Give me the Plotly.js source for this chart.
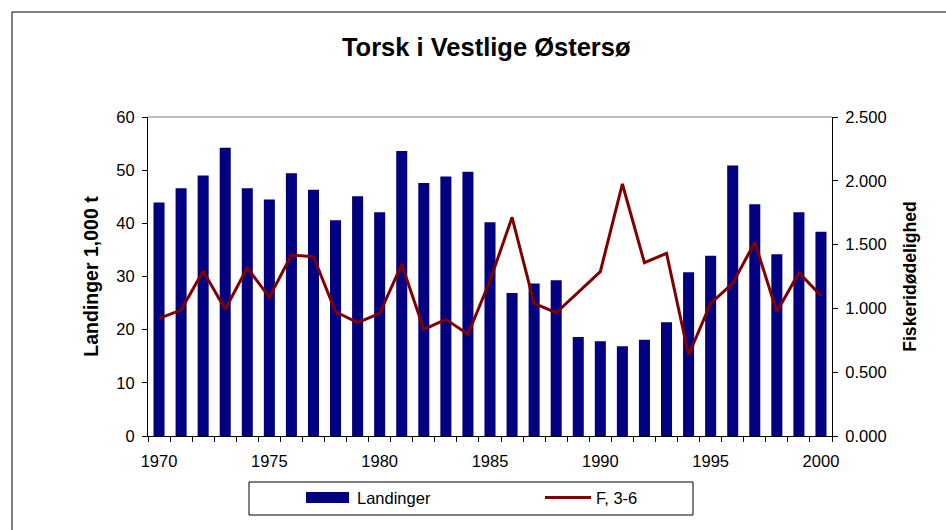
<!DOCTYPE html>
<html>
<head>
<meta charset="utf-8">
<script src="https://cdn.plot.ly/plotly-3.0.1.min.js"></script>
<style>html,body{margin:0;padding:0;background:#fff;}</style>
</head>
<body>
<div id="chart" style="width:946px;height:530px;"></div>
<script>
const years = [1970,1971,1972,1973,1974,1975,1976,1977,1978,1979,1980,1981,1982,1983,1984,1985,1986,1987,1988,1989,1990,1991,1992,1993,1994,1995,1996,1997,1998,1999,2000];
const landinger = [43.9,46.6,49.0,54.2,46.6,44.5,49.4,46.3,40.6,45.1,42.1,53.6,47.6,48.8,49.7,40.2,26.9,28.7,29.3,18.6,17.8,16.9,18.1,21.4,30.8,33.9,50.9,43.6,34.2,42.1,38.4];
const fishingMortality = [0.922,0.987,1.293,0.993,1.319,1.087,1.418,1.405,0.974,0.888,0.961,1.345,0.836,0.914,0.797,1.217,1.714,1.040,0.966,1.127,1.288,1.975,1.358,1.432,0.635,1.040,1.197,1.518,0.974,1.280,1.100];
const xTickVals = [1970,1975,1980,1985,1990,1995,2000];
const leftTicks = [0,10,20,30,40,50,60];
const rightTicks = [0,0.5,1,1.5,2,2.5];
const seriesNames = ['Landinger', 'F, 3-6'];
const barColor = '#000080';
const lineColor = '#800000';

const FONT = '"Liberation Sans", Arial, sans-serif';
const TICKSIZE = 16.5;

const traces = [
  {
    type: 'bar', name: seriesNames[0], x: years, y: landinger,
    marker: {color: barColor, line: {width: 0}}, width: 0.5,
    xaxis: 'x', yaxis: 'y', hoverinfo: 'skip', showlegend: false
  },
  {
    type: 'scatter', mode: 'lines', name: seriesNames[1], x: years, y: fishingMortality,
    line: {color: lineColor, width: 3}, xaxis: 'x', yaxis: 'y2', hoverinfo: 'skip', showlegend: false
  }
];

// pixel helpers for legend box (plot area: x 148..832, y 117..436)
const px = v => (v - 148) / 684;
const py = v => (436 - v) / 319;

const layout = {
  width: 946, height: 530,
  margin: {l: 148, r: 114, t: 117, b: 94},
  paper_bgcolor: '#ffffff', plot_bgcolor: '#ffffff',
  font: {family: FONT, size: TICKSIZE, color: '#000'},
  showlegend: false,
  title: {
    text: '<b>Torsk i Vestlige Østersø</b>',
    font: {family: FONT, size: 25.5, color: '#000'},
    x: 0.514, xanchor: 'center', xref: 'container',
    y: 0.912, yanchor: 'middle', yref: 'container'
  },
  xaxis: {
    range: [1969.5, 2000.5], tickvals: xTickVals, ticktext: xTickVals.map(String),
    ticks: '', showgrid: false, zeroline: false,
    showline: true, linecolor: '#000', linewidth: 1,
    tickfont: {family: FONT, size: TICKSIZE}, ticklabelstandoff: 10,
    minor: {tick0: 1969.5, dtick: 1, ticks: 'outside', ticklen: 5, tickcolor: '#000', tickwidth: 1, showgrid: false}
  },
  yaxis: {
    range: [0, 60], tickvals: leftTicks, ticks: 'outside', ticklen: 5, tickcolor: '#000',
    showgrid: false, zeroline: false, showline: true, linecolor: '#000', linewidth: 1,
    tickfont: {family: FONT, size: TICKSIZE}, ticklabelstandoff: 4,
    title: {text: '<b>Landinger 1,000 t</b>', font: {family: FONT, size: 19.5}, standoff: 12}
  },
  yaxis2: {
    range: [0, 2.5], tickvals: rightTicks, tickformat: '.3f', overlaying: 'y', side: 'right',
    ticks: 'outside', ticklen: 5, tickcolor: '#000',
    showgrid: false, zeroline: false, showline: true, linecolor: '#000', linewidth: 1,
    tickfont: {family: FONT, size: TICKSIZE}, ticklabelstandoff: 4,
    title: {text: '<b>Fiskeridødelighed</b>', font: {family: FONT, size: 17.6}, standoff: 18}
  },
  shapes: [
    {type: 'line', xref: 'paper', yref: 'paper', x0: 0, x1: 1, y0: 1, y1: 1, line: {color: '#808080', width: 1}},
    {type: 'rect', xref: 'paper', yref: 'paper', x0: px(12), x1: px(1100), y0: py(700), y1: py(12), line: {color: '#000', width: 1}, layer: 'below'},
    // legend box
    {type: 'rect', xref: 'paper', yref: 'paper', x0: px(249), x1: px(693), y0: py(515), y1: py(482), line: {color: '#000', width: 1}, fillcolor: '#fff'},
    {type: 'rect', xref: 'paper', yref: 'paper', x0: px(306), x1: px(349), y0: py(503), y1: py(492), line: {width: 0}, fillcolor: barColor},
    {type: 'line', xref: 'paper', yref: 'paper', x0: px(545), x1: px(591), y0: py(497.5), y1: py(497.5), line: {color: lineColor, width: 3}}
  ],
  annotations: [
    {text: seriesNames[0], xref: 'paper', yref: 'paper', x: px(355), y: py(497.5), xanchor: 'left', yanchor: 'middle', showarrow: false, font: {family: FONT, size: TICKSIZE, color: '#000'}},
    {text: seriesNames[1], xref: 'paper', yref: 'paper', x: px(594), y: py(497.5), xanchor: 'left', yanchor: 'middle', showarrow: false, font: {family: FONT, size: TICKSIZE, color: '#000'}}
  ]
};

Plotly.newPlot('chart', traces, layout, {displayModeBar: false, staticPlot: true});
</script>
</body>
</html>
